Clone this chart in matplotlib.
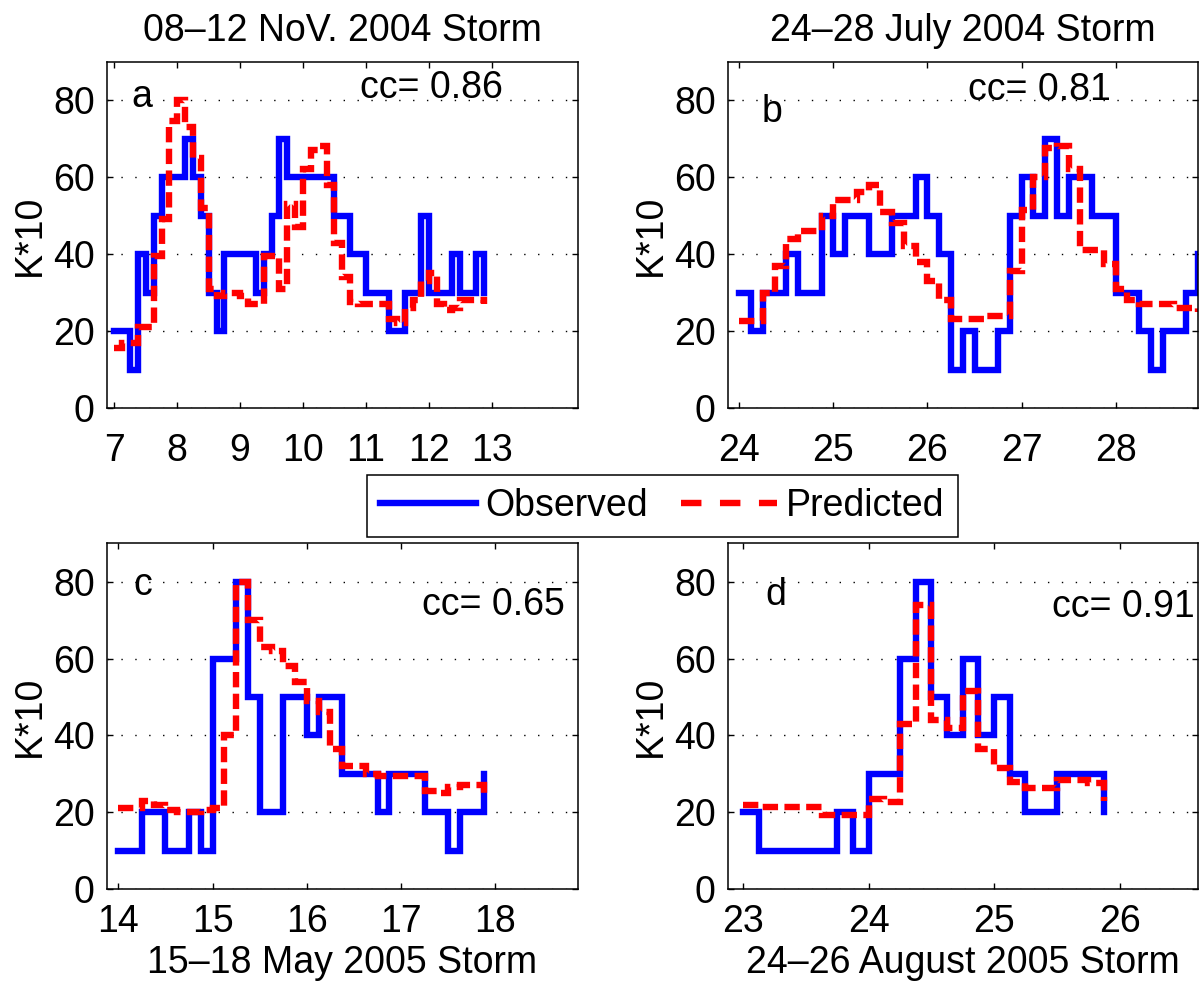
import numpy as np
import matplotlib
matplotlib.use("Agg")
import matplotlib.pyplot as plt

plt.rcParams['font.family'] = ['Liberation Sans', 'DejaVu Sans']

STEP = 0.125  # 3-hour Kp intervals, in days

# a: 08-12 Nov 2004
start_a = 7.0
obs_a = [20, 20, 10, 40, 30, 50, 60, 60, 60, 70, 60, 50, 30, 20, 40, 40, 40, 40, 30, 40,
         50, 70, 60, 60, 60, 60, 60, 60, 50, 50, 40, 40, 30, 30, 30, 20, 20, 30, 30, 50,
         30, 30, 30, 40, 30, 30, 40, 30]
pred_a = [15.5, 17, 17, 21, 21, 39.5, 49, 74.5, 80, 73, 65, 52, 31, 29, 30, 30, 29, 27, 27, 39.5,
          39.5, 31, 53, 47, 62, 67, 68, 58, 43, 34, 27.5, 27, 27, 27, 27, 23, 22, 26, 28, 33,
          35, 27, 25.5, 26, 28, 28, 28, 27]

# b: 24-28 July 2004
start_b = 24.0
obs_b = [30, 20, 30, 30, 40, 30, 30, 50, 40, 50, 50, 40, 40, 50, 50, 60, 50, 40, 10, 20,
         10, 10, 20, 50, 60, 50, 70, 50, 60, 60, 50, 50, 30, 30, 20, 10, 20, 20, 30, 40]
pred_b = [22.5, 22.5, 30, 37, 44, 46, 46, 50, 54, 54, 56, 58, 51, 48, 42, 38, 33, 28, 23, 23,
          23, 24, 24, 35.5, 51.5, 60, 67.5, 68, 62, 41, 41, 37.5, 31, 28, 27, 27, 27, 26, 26, 25]

# c: 15-18 May 2005
start_c = 14.0
obs_c = [10, 10, 20, 20, 10, 10, 20, 10, 60, 60, 80, 50, 20, 20, 50, 50, 40, 50, 50, 30,
         30, 30, 20, 30, 30, 30, 20, 20, 10, 20, 20, 30]
pred_c = [21, 21, 23, 22, 20.5, 20, 20, 20.5, 21, 40, 80, 70, 63, 62, 58, 54, 49, 46, 36.5, 32,
          32, 30, 29.5, 29.5, 29.5, 29.5, 25.5, 25, 26.5, 27, 27, 24]

# d: 24-26 August 2005
start_d = 23.0
obs_d = [20, 10, 10, 10, 10, 10, 20, 10, 30, 30, 60, 80, 50, 40, 60, 40, 50, 30, 20, 20,
         30, 30, 30, 20]
pred_d = [22, 21.3, 21.3, 21.3, 21.5, 19.3, 19.2, 19.2, 23.5, 22.7, 43, 74, 44, 42, 51.5, 36.5,
          31.5, 28, 26.2, 26.2, 28.4, 28.4, 27.5, 23]

panels = [
    dict(start=start_a, obs=obs_a, pred=pred_a, xlim=(6.875, 14.375), xticks=[7, 8, 9, 10, 11, 12, 13],
         letter='a', cc='cc= 0.86', title='08–12 NoV. 2004 Storm', top=True,
         pos=[0.0888, 0.5858, 0.3928, 0.3516], lpos=(0.053, 0.87), cpos=(0.538, 0.894)),
    dict(start=start_b, obs=obs_b, pred=pred_b, xlim=(23.875, 28.875), xticks=[24, 25, 26, 27, 28],
         letter='b', cc='cc= 0.81', title='24–28 July 2004 Storm', top=True,
         pos=[0.6063, 0.5858, 0.3920, 0.3516], lpos=(0.073, 0.827), cpos=(0.512, 0.889)),
    dict(start=start_c, obs=obs_c, pred=pred_c, xlim=(13.875, 18.875), xticks=[14, 15, 16, 17, 18],
         letter='c', cc='cc= 0.65', title='15–18 May 2005 Storm', top=False,
         pos=[0.0888, 0.0973, 0.3928, 0.3512], lpos=(0.057, 0.85), cpos=(0.669, 0.793)),
    dict(start=start_d, obs=obs_d, pred=pred_d, xlim=(22.875, 26.625), xticks=[23, 24, 25, 26],
         letter='d', cc='cc= 0.91', title='24–26 August 2005 Storm', top=False,
         pos=[0.6063, 0.0973, 0.3920, 0.3512], lpos=(0.08, 0.822), cpos=(0.689, 0.788)),
]

FS = 27
fig = plt.figure(figsize=(12, 9.85), dpi=100)

for p in panels:
    ax = fig.add_axes(p['pos'])
    x = p['start'] + np.arange(len(p['obs'])) * STEP
    lo, = ax.step(x, p['obs'], where='post', color='#0000ff', lw=4.6,
                  solid_joinstyle='miter', label='Observed')
    lp, = ax.step(x, p['pred'], where='post', color='#ff0000', lw=4.6, ls='--',
                  dashes=(2.4, 1.0), dash_joinstyle='miter', dash_capstyle='butt',
                  label='Predicted')
    ax.set_xlim(*p['xlim'])
    ax.set_ylim(0, 90)
    ax.set_xticks(p['xticks'])
    ax.set_yticks([0, 20, 40, 60, 80])
    ax.yaxis.grid(True, color='k', lw=1.0, linestyle=(0, (1, 9)))
    ax.set_axisbelow(True)
    ax.tick_params(direction='in', top=True, right=True, length=4, width=1,
                   labelsize=FS)
    ax.tick_params(axis='x', pad=18 if p['top'] else 11)
    ax.tick_params(axis='y', pad=8.5)
    for s in ax.spines.values():
        s.set_linewidth(1.1)
    ax.set_ylabel('K*10', fontsize=FS)
    ax.yaxis.set_label_coords(-0.124, 0.5)
    if p['top']:
        ax.set_title(p['title'], fontsize=FS, pad=15)
    else:
        ax.set_xlabel(p['title'], fontsize=FS, labelpad=3)
    ax.text(p['lpos'][0], p['lpos'][1], p['letter'], transform=ax.transAxes,
            fontsize=FS, ha='left', va='baseline')
    ax.text(p['cpos'][0], p['cpos'][1], p['cc'], transform=ax.transAxes,
            fontsize=FS, ha='left', va='baseline')

leg = fig.legend(handles=[lo, lp], labels=['Observed', 'Predicted'], loc='center',
                 bbox_to_anchor=(0.552, 0.4863), ncol=2, fontsize=FS, frameon=True,
                 fancybox=False, edgecolor='k', framealpha=1, handlelength=2.55,
                 handletextpad=0.25, columnspacing=0.9, borderpad=0.35, borderaxespad=0)
leg.get_frame().set_linewidth(1.1)
leg.get_lines()[1].set_dashes((3.2, 2.9))

fig.savefig('out.png', dpi=100)
